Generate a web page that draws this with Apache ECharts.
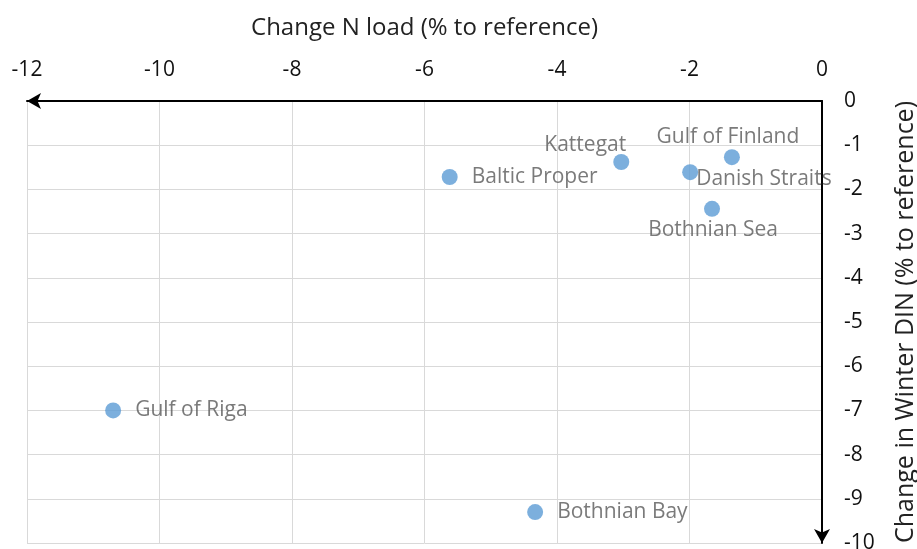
<!DOCTYPE html>
<html><head><meta charset="utf-8">
<script src="https://cdn.jsdelivr.net/npm/echarts@6/dist/echarts.min.js"></script>
<style>html,body{margin:0;padding:0;background:#fff}#c{width:917px;height:549px}</style>
</head><body><div id="c"></div>
<script>
const names = ['Gulf of Riga','Bothnian Bay','Baltic Proper','Kattegat','Danish Straits','Gulf of Finland','Bothnian Sea'];
const nLoad = [-10.7, -4.33, -5.62, -3.03, -1.99, -1.36, -1.66];
const winterDIN = [-7.0, -9.3, -1.72, -1.38, -1.61, -1.27, -2.44];
const xTicks = [-12, -10, -8, -6, -4, -2, 0];
const yTicks = [0, -1, -2, -3, -4, -5, -6, -7, -8, -9, -10];

const labelPos = {
  'Gulf of Riga': {position: 'right', distance: 14},
  'Bothnian Bay': {position: 'right', distance: 14},
  'Baltic Proper': {position: 'right', distance: 14},
  'Kattegat': {position: 'top', offset: [-36, 6], distance: 4},
  'Danish Straits': {position: 'right', offset: [-4, 7], distance: 2},
  'Gulf of Finland': {position: 'top', offset: [-4, 2], distance: 4},
  'Bothnian Sea': {position: 'bottom', offset: [1, 0], distance: 3}
};
const data = names.map((n, i) => ({
  value: [nLoad[i], winterDIN[i], n],
  label: labelPos[n]
}));

const chart = echarts.init(document.getElementById('c'));
const fnt = '"Open Sans", sans-serif';
chart.setOption({
  animation: false,
  grid: {left: 27, right: 95, top: 101, bottom: 6, outerBoundsMode: 'none', containLabel: false},
  xAxis: {
    type: 'value', position: 'top', min: -12, max: 0, interval: 2,
    name: 'Change N load (% to reference)', nameLocation: 'middle', nameGap: 61,
    nameTextStyle: {fontFamily: fnt, fontSize: 24, color: '#222'},
    axisLine: {onZero: false, lineStyle: {color: '#000', width: 2}, symbol: ['arrow', 'none'], symbolSize: [12, 14]},
    axisTick: {show: false},
    axisLabel: {fontFamily: fnt, fontSize: 21, color: '#111', margin: 20,
      formatter: v => xTicks.includes(v) ? String(v) : ''},
    splitLine: {lineStyle: {color: '#d9d9d9', width: 1}}
  },
  yAxis: {
    type: 'value', position: 'right', min: -10, max: 0, interval: 1,
    name: 'Change in Winter DIN (% to reference)', nameLocation: 'middle', nameGap: 71, nameRotate: 90,
    nameTextStyle: {fontFamily: fnt, fontSize: 25, color: '#222'},
    axisLine: {onZero: false, lineStyle: {color: '#000', width: 2}, symbol: ['arrow', 'none'], symbolSize: [12, 14]},
    axisTick: {show: false},
    axisLabel: {fontFamily: fnt, fontSize: 21, color: '#111', margin: 22,
      formatter: v => yTicks.includes(v) ? String(v) : ''},
    splitLine: {lineStyle: {color: '#d9d9d9', width: 1}}
  },
  series: [{
    type: 'scatter', symbolSize: 16,
    itemStyle: {color: '#5b9bd5'},
    label: {show: true, formatter: p => p.value[2], fontFamily: fnt, fontSize: 21, color: '#595959'},
    data: data
  }]
});
</script></body></html>
